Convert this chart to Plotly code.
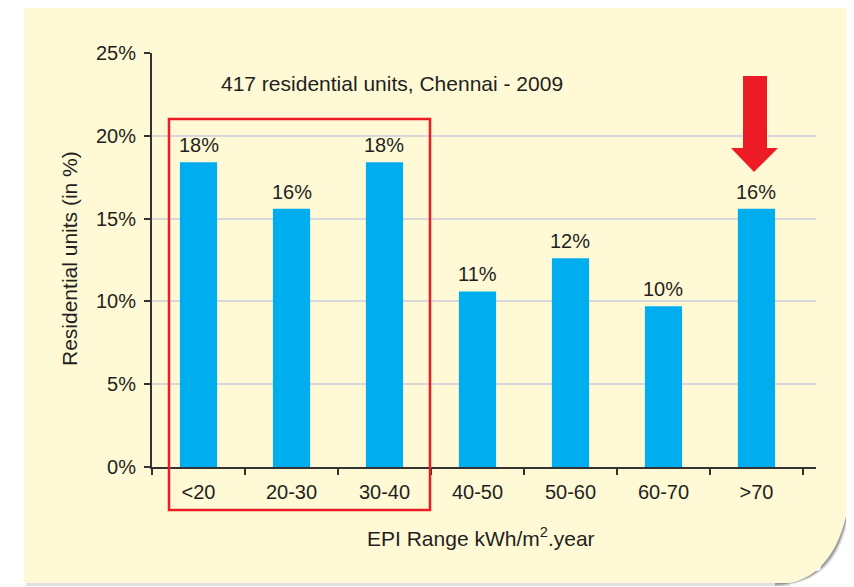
import plotly.graph_objects as go

categories = ["<20", "20-30", "30-40", "40-50", "50-60", "60-70", ">70"]
values = [18.4, 15.6, 18.4, 10.6, 12.6, 9.7, 15.6]
value_labels = ["18%", "16%", "18%", "11%", "12%", "10%", "16%"]
y_ticks = [0, 5, 10, 15, 20, 25]

# page body margin offsets the figure by 8px; compensate so screen coords match
OFF = 8
SW, SH = 854, 587
SL, SR, ST, SB = 152, 38, 53, 120      # plot area in screen pixels
PW = SW - SL - SR
PH = SH - ST - SB
W, H = SW - OFF, SH - OFF
L, T = SL - OFF, ST - OFF
R = W - L - PW
B = H - T - PH

FONT = "Liberation Sans, Arial, Helvetica, sans-serif"
TXT = "#231f20"
BAR = "#00AEEF"
RED = "#ED1C24"
CARD = "#FFF9D6"


def px(x):
    return (x - SL) / PW


def py(y):
    return (SH - SB - y) / PH


def path(pts, close=True):
    s = ""
    for i, p in enumerate(pts):
        if p[0] == "C":
            s += " C %.4f,%.4f %.4f,%.4f %.4f,%.4f" % (px(p[1]), py(p[2]), px(p[3]), py(p[4]), px(p[5]), py(p[6]))
        else:
            s += (" M" if i == 0 else " L") + " %.4f,%.4f" % (px(p[0]), py(p[1]))
    return s + (" Z" if close else "")


fig = go.Figure()
fig.add_trace(go.Bar(
    x=categories, y=values, width=0.4,
    marker=dict(color=BAR, line=dict(width=0)),
    hoverinfo="skip",
))

shapes = []
# shadow of curled corner
for off, op in [(10, 0.10), (6, 0.18), (3, 0.30)]:
    shapes.append(dict(
        type="path", xref="paper", yref="paper", layer="below",
        path=path([(852, 440), ("C", 852 + off * 0.5, 535, 835 + off * 0.4, 582 + off * 0.2, 775, 584 + off * 0.25), (775, 583), (820, 570)]),
        fillcolor="rgba(60,60,60,%.2f)" % op, line=dict(width=0),
    ))
shapes.append(dict(
    type="path", xref="paper", yref="paper", layer="below",
    path=path([(26, 583), (790, 583), (790, 586), (26, 586)]),
    fillcolor="rgba(120,120,120,0.22)", line=dict(width=0),
))
# card
shapes.append(dict(
    type="path", xref="paper", yref="paper", layer="below",
    path=path([(24, 4), (852, 4), (852, 470), ("C", 850, 530, 830, 575, 790, 583), (24, 583)]),
    fillcolor=CARD, line=dict(width=0),
))
# red highlight rectangle
shapes.append(dict(
    type="rect", xref="paper", yref="paper", layer="above",
    x0=px(169), x1=px(430), y0=py(510), y1=py(119),
    line=dict(color=RED, width=2.5), fillcolor="rgba(0,0,0,0)",
))
# red block arrow
shapes.append(dict(
    type="path", xref="paper", yref="paper", layer="above",
    path=path([(743, 76), (767, 76), (767, 148), (778, 148), (754, 172), (731, 148), (743, 148)]),
    fillcolor=RED, line=dict(width=0),
))

annotations = []
for c, v, t in zip(categories, values, value_labels):
    annotations.append(dict(
        x=c, y=v, xref="x", yref="y", text=t, showarrow=False,
        yanchor="bottom", yshift=4, font=dict(family=FONT, size=20, color=TXT),
    ))
annotations.append(dict(
    x=px(392), y=py(83), xref="paper", yref="paper", xanchor="center", yanchor="middle",
    text="417 residential units, Chennai - 2009", showarrow=False,
    font=dict(family=FONT, size=21, color=TXT),
))
annotations.append(dict(
    x=px(481), y=py(537), xref="paper", yref="paper", xanchor="center", yanchor="middle",
    text="EPI Range kWh/m<sup>2</sup>.year", showarrow=False,
    font=dict(family=FONT, size=21, color=TXT),
))
annotations.append(dict(
    x=px(69), y=py(259), xref="paper", yref="paper", xanchor="center", yanchor="middle",
    text="Residential units (in %)", showarrow=False, textangle=-90,
    font=dict(family=FONT, size=21, color=TXT),
))

fig.update_layout(
    width=W, height=H,
    margin=dict(l=L, r=R, t=T, b=B, pad=0),
    paper_bgcolor="white", plot_bgcolor="rgba(0,0,0,0)",
    showlegend=False,
    shapes=shapes, annotations=annotations,
    font=dict(family=FONT, size=20, color=TXT),
    xaxis=dict(
        type="category", categoryorder="array", categoryarray=categories,
        range=[-0.5, 6.64], showline=True, linecolor="#333333", linewidth=2,
        ticks="outside", tickson="boundaries", ticklen=6, tickwidth=2, tickcolor="#333333",
        showgrid=False, zeroline=False, ticklabelstandoff=6,
        tickfont=dict(family=FONT, size=20, color=TXT), fixedrange=True,
    ),
    yaxis=dict(
        range=[0, 25], tickvals=y_ticks, ticktext=["%d%%" % v for v in y_ticks],
        showline=True, linecolor="#333333", linewidth=2,
        ticks="outside", ticklen=6, tickwidth=2, tickcolor="#333333",
        showgrid=True, gridcolor="#D6D8DD", gridwidth=2, zeroline=False,
        ticklabelstandoff=4, tickfont=dict(family=FONT, size=20, color=TXT), fixedrange=True,
    ),
)

fig.write_html("out.html")
